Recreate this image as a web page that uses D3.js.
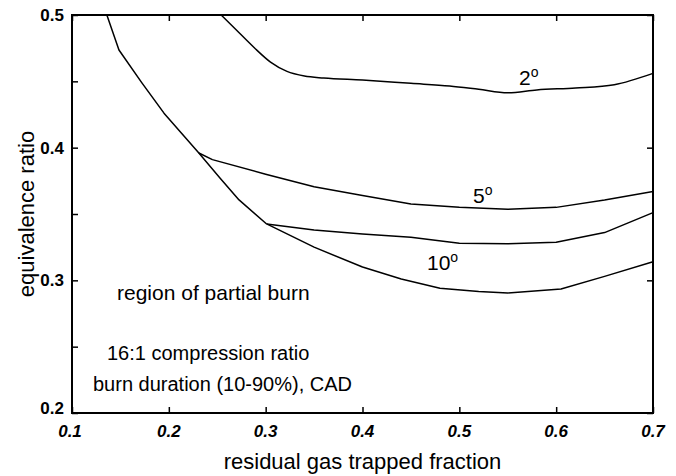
<!DOCTYPE html>
<html>
<head>
<meta charset="utf-8">
<script src="https://cdn.jsdelivr.net/npm/d3@7"></script>
<style>
  html, body { margin: 0; padding: 0; background: #fff; }
  svg { display: block; }
  text { font-family: "Liberation Sans", Arial, sans-serif; fill: #000; }
</style>
</head>
<body>
<svg id="chart" width="676" height="476"></svg>
<script>
// ---- data ----
const xTicks = [0.1, 0.2, 0.3, 0.4, 0.5, 0.6, 0.7];
const yTicks = [0.2, 0.3, 0.4, 0.5];
const xTickLabels = ["0.1", "0.2", "0.3", "0.4", "0.5", "0.6", "0.7"];
const yTickLabels = ["0.2", "0.3", "0.4", "0.5"];

// boundary of partial-burn region (upper part, down to the 10° junction)
const boundaryX = [0.136, 0.1485, 0.172, 0.195, 0.231, 0.253, 0.2725, 0.301];
const boundaryY = [0.500, 0.4736, 0.449, 0.426, 0.396, 0.377, 0.3606, 0.3425];

// lower curve continuing from the junction
const lowerX = [0.301, 0.35, 0.40, 0.44, 0.48, 0.52, 0.55, 0.605, 0.65, 0.70];
const lowerY = [0.3425, 0.325, 0.310, 0.301, 0.294, 0.2915, 0.2905, 0.2935, 0.303, 0.314];

const deg2X = [0.254, 0.27, 0.288, 0.305, 0.322, 0.34, 0.36, 0.40, 0.45, 0.49, 0.52, 0.55, 0.58, 0.62, 0.66, 0.70];
const deg2Y = [0.500, 0.4885, 0.4755, 0.4645, 0.4575, 0.454, 0.4525, 0.451, 0.4485, 0.4465, 0.444, 0.4414, 0.4435, 0.445, 0.4475, 0.456];

const deg5X = [0.231, 0.245, 0.30, 0.35, 0.40, 0.45, 0.50, 0.55, 0.60, 0.65, 0.70];
const deg5Y = [0.396, 0.391, 0.380, 0.3705, 0.364, 0.3575, 0.355, 0.3535, 0.355, 0.3605, 0.367];

const deg10X = [0.301, 0.35, 0.40, 0.45, 0.50, 0.55, 0.60, 0.65, 0.70];
const deg10Y = [0.3425, 0.338, 0.335, 0.3325, 0.328, 0.3275, 0.3287, 0.336, 0.351];

const curveLabels = [
  { main: "2", x: 0.5616, y: 0.4475 },
  { main: "5", x: 0.5141, y: 0.3585 },
  { main: "10", x: 0.4666, y: 0.308 }
];

// ---- layout ----
const svg = d3.select("#chart");
const margin = { left: 72, right: 23, top: 15, bottom: 63 };
const W = 676, H = 476;
const x = d3.scaleLinear().domain([0.1, 0.7]).range([margin.left, W - margin.right]);
const y = d3.scaleLinear().domain([0.2, 0.5]).range([H - margin.bottom, margin.top]);

// ticks (inward)
const xAxisB = d3.axisBottom(x).tickValues(xTicks).tickSize(-6).tickFormat("");
const xAxisT = d3.axisTop(x).tickValues(xTicks).tickSize(-6).tickFormat("");
const yAxisL = d3.axisLeft(y).tickValues(d3.range(0.2, 0.5001, 0.05)).tickSize(-6).tickFormat("");
const yAxisR = d3.axisRight(y).tickValues(yTicks).tickSize(-6).tickFormat("");

function styleAxis(g) {
  g.select(".domain").remove();
  g.selectAll(".tick line").attr("stroke", "#000").attr("stroke-width", 1.5);
}
svg.append("g").attr("transform", `translate(0,${y(0.2)})`).call(xAxisB).call(styleAxis);
svg.append("g").attr("transform", `translate(0,${y(0.5)})`).call(xAxisT).call(styleAxis);
svg.append("g").attr("transform", `translate(${x(0.1)},0)`).call(yAxisL).call(styleAxis);
svg.append("g").attr("transform", `translate(${x(0.7)},0)`).call(yAxisR).call(styleAxis);

// frame
svg.append("rect")
  .attr("x", x(0.1)).attr("y", y(0.5))
  .attr("width", x(0.7) - x(0.1)).attr("height", y(0.2) - y(0.5))
  .attr("fill", "none").attr("stroke", "#000").attr("stroke-width", 2);

// tick labels
svg.append("g").selectAll("text").data(xTicks).join("text")
  .attr("x", (d, i) => x(d) + (i === 0 ? -2 : 0))
  .attr("y", y(0.2) + 24)
  .attr("text-anchor", "middle")
  .style("font-size", "17px").style("font-weight", "bold").style("font-style", "italic")
  .text((d, i) => xTickLabels[i]);

svg.append("g").selectAll("text").data(yTicks).join("text")
  .attr("x", x(0.1) - 8)
  .attr("y", d => y(d) + (d === 0.2 ? 1 : 6))
  .attr("text-anchor", "end")
  .style("font-size", "17px").style("font-weight", "bold")
  .text((d, i) => yTickLabels[i]);

// axis titles
svg.append("text")
  .attr("x", (x(0.1) + x(0.7)) / 2).attr("y", 469)
  .attr("text-anchor", "middle").style("font-size", "22px")
  .text("residual gas trapped fraction");
svg.append("text")
  .attr("transform", `translate(34,${(y(0.2) + y(0.5)) / 2}) rotate(-90)`)
  .attr("text-anchor", "middle").style("font-size", "22px")
  .text("equivalence ratio");

// curves
const lineLin = d3.line().x(d => x(d[0])).y(d => y(d[1])).curve(d3.curveLinear);
const lineSmooth = d3.line().x(d => x(d[0])).y(d => y(d[1])).curve(d3.curveMonotoneX);
const series = [
  { pts: d3.zip(boundaryX, boundaryY), smooth: false },
  { pts: d3.zip(lowerX, lowerY), smooth: false },
  { pts: d3.zip(deg2X, deg2Y), smooth: true },
  { pts: d3.zip(deg5X, deg5Y), smooth: false },
  { pts: d3.zip(deg10X, deg10Y), smooth: false }
];
svg.append("g").selectAll("path").data(series).join("path")
  .attr("d", d => (d.smooth ? lineSmooth : lineLin)(d.pts))
  .attr("fill", "none").attr("stroke", "#000").attr("stroke-width", 1.5)
  .attr("stroke-linejoin", "round");

// curve labels
const lab = svg.append("g").selectAll("text").data(curveLabels).join("text")
  .attr("x", d => x(d.x)).attr("y", d => y(d.y))
  .style("font-size", "21px");
lab.append("tspan").text(d => d.main);
lab.append("tspan").attr("dy", -8).style("font-size", "14px").text("o");

// annotations
svg.append("text").attr("x", 117).attr("y", 300).style("font-size", "21px").text("region of partial burn");
svg.append("text").attr("x", 107).attr("y", 360).style("font-size", "20px").text("16:1 compression ratio");
svg.append("text").attr("x", 93).attr("y", 391).style("font-size", "20px").text("burn duration (10-90%), CAD");
</script>
</body>
</html>
